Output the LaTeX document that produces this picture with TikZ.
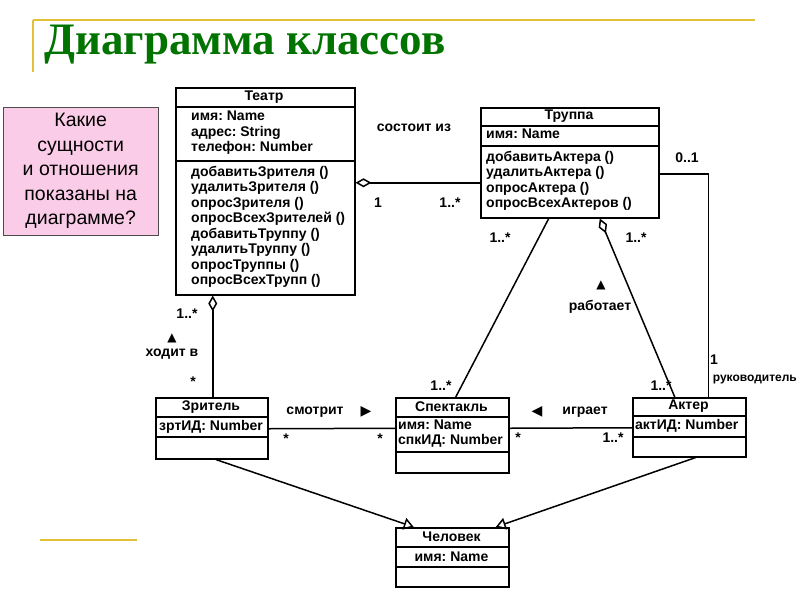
\documentclass[tikz,border=0pt]{standalone}
\usepackage{fontspec}
\setmainfont{Liberation Sans}
\newfontfamily\titlefont{Liberation Serif}
\usetikzlibrary{arrows.meta,calc}
\frenchspacing
\begin{document}
\begin{tikzpicture}[x=1pt,y=-1pt,
  cls/.style={draw,line width=1.5pt,anchor=north west,inner sep=0pt},
  sep/.style={line width=1.5pt},
  txt/.style={anchor=north west,align=left,inner sep=0pt,font=\bfseries\fontsize{14}{15.5}\selectfont},
  hdr/.style={anchor=center,inner sep=0pt,font=\bfseries\fontsize{14}{15.5}\selectfont},
  lbl/.style={inner sep=0pt,font=\bfseries\fontsize{14}{15.5}\selectfont},
  conn/.style={line width=1.5pt},
  agg/.style={conn,{Diamond[open,length=16pt,width=9pt]}-},
  gen/.style={conn,-{Triangle[open,length=10pt,width=12pt]}},
  gold/.style={draw=yellow!50!brown,line width=1.5pt}]
\useasboundingbox (0,0) rectangle (800,600);
\fill[white] (0,0) rectangle (800,600);
% title decoration
\draw[gold] (33,20) -- (755,20);
\draw[gold] (33,20) -- (33,72);
\draw[gold] (40,540) -- (137,540);
\node[anchor=west,inner sep=0pt,text=green!45!black,font=\titlefont\bfseries\fontsize{45}{47}\selectfont] (title) at (44,45) {Диаграмма классов};
% question box
\node[draw=black!70,fill=magenta!20,anchor=north west,minimum width=155pt,minimum height=128pt,inner sep=0pt,align=center,font=\fontsize{19.5}{24.5}\selectfont] (q) at (3,107) {Какие\\сущности\\и отношения\\показаны на\\диаграмме?};
% Театр
\node[cls,minimum width=179pt,minimum height=207pt] (teatr) at (175,87) {};
\draw[sep] (175,107) -- (354,107); \draw[sep] (175,161) -- (354,161);
\node[hdr] (teatrh) at (264,97) {Театр};
\node[txt] (teatra) at (191,111) {имя: Name\\адрес: String\\телефон: Number};
\node[txt] (teatro) at (191,166) {добавитьЗрителя ()\\удалитьЗрителя ()\\опросЗрителя ()\\опросВсехЗрителей ()\\добавитьТруппу ()\\удалитьТруппу ()\\опросТруппы ()\\опросВсехТрупп ()};
% Труппа
\node[cls,minimum width=178pt,minimum height=110pt] (truppa) at (480,107) {};
\draw[sep] (480,126) -- (658,126); \draw[sep] (480,146) -- (658,146);
\node[hdr] (truppah) at (569,116.5) {Труппа};
\node[txt] (truppaa) at (486,129) {имя: Name};
\node[txt] (truppao) at (486,151) {добавитьАктера ()\\удалитьАктера ()\\опросАктера ()\\опросВсехАктеров ()};
% Зритель
\node[cls,minimum width=112pt,minimum height=61pt] (zritel) at (155,397) {};
\draw[sep] (155,417) -- (267,417); \draw[sep] (155,437) -- (267,437);
\node[hdr] (zritelh) at (211,407) {Зритель};
\node[txt] (zritela) at (159,420) {зртИД: Number};
% Спектакль
\node[cls,minimum width=113pt,minimum height=75pt] (spekt) at (395,397) {};
\draw[sep] (395,417) -- (508,417); \draw[sep] (395,452) -- (508,452);
\node[hdr] (spekth) at (451.5,407) {Спектакль};
\node[txt] (spekta) at (398,419.5) {имя: Name\\спкИД: Number};
% Актер
\node[cls,minimum width=113pt,minimum height=59pt] (akter) at (632,397) {};
\draw[sep] (632,416) -- (745,416); \draw[sep] (632,437) -- (745,437);
\node[hdr] (akterh) at (688.5,406.5) {Актер};
\node[txt] (aktera) at (635,419) {актИД: Number};
% Человек
\node[cls,minimum width=113pt,minimum height=59pt] (chel) at (395,527) {};
\draw[sep] (395,547) -- (508,547); \draw[sep] (395,567) -- (508,567);
\node[hdr] (chelh) at (451.5,537) {Человек};
\node[hdr] (chela) at (451.5,557) {имя: Name};
% connectors
\draw[agg] ([yshift=8.5pt]teatr.east) -- ([yshift=-20pt]truppa.west);
\draw[agg] ([xshift=-52.5pt]teatr.south) -- ([xshift=1pt]zritel.north);
\draw[conn] ([xshift=-21pt]truppa.south) -- ([xshift=3.5pt]spekt.north);
\draw[agg] ([xshift=30pt]truppa.south) -- ([xshift=-14.5pt]akter.north);
\draw[conn] ([yshift=-11pt]truppa.east) -- ++(49,0) coordinate (rk) -- (rk |- akter.north);
\draw[conn] ([yshift=-0.5pt]zritel.east) -- ([yshift=7pt]spekt.west);
\draw[conn] ([yshift=7pt]spekt.east) -- ([yshift=-0.5pt]akter.west);
\draw[gen] ([xshift=4pt]zritel.south) -- ([xshift=-38.5pt]chel.north);
\draw[gen] ([xshift=6.5pt]akter.south) -- ([xshift=43.5pt]chel.north);
% labels
\node[lbl] (l1) at (414,128) {состоит из};
\node[lbl] (l2) at (378,203) {1};
\node[lbl] (l3) at (450,203) {1..*};
\node[lbl] (l4) at (187,314) {1..*};
\node[lbl] (l5) at (172,338) {\fontspec{DejaVu Sans}\fontsize{12}{12}\selectfont▲};
\node[lbl] (l6) at (172,354) {ходит в};
\node[lbl] (l7) at (193,382) {*};
\node[lbl] (l8) at (500,238) {1..*};
\node[lbl] (l9) at (441,386) {1..*};
\node[lbl] (l10) at (636,238) {1..*};
\node[lbl] (l11) at (601,285) {\fontspec{DejaVu Sans}\fontsize{12}{12}\selectfont▲};
\node[lbl] (l12) at (600,307) {работает};
\node[lbl] (l13) at (661,386) {1..*};
\node[lbl] (l14) at (687,158) {0..1};
\node[lbl] (l15) at (714,360) {1};
\node[lbl,anchor=east,font=\bfseries\fontsize{12}{14}\selectfont] (l16) at (797,380) {руководитель};
\node[lbl] (l17) at (315,412) {смотрит};
\node[lbl] (l18) at (366,412) {\fontspec{DejaVu Sans}\fontsize{14}{14}\selectfont▶};
\node[lbl] (l19) at (286,439) {*};
\node[lbl] (l20) at (380,439) {*};
\node[lbl] (l21) at (537,412) {\fontspec{DejaVu Sans}\fontsize{14}{14}\selectfont◀};
\node[lbl] (l22) at (585,412) {играет};
\node[lbl] (l23) at (518,438) {*};
\node[lbl] (l24) at (613,438) {1..*};
\end{tikzpicture}
\end{document}
